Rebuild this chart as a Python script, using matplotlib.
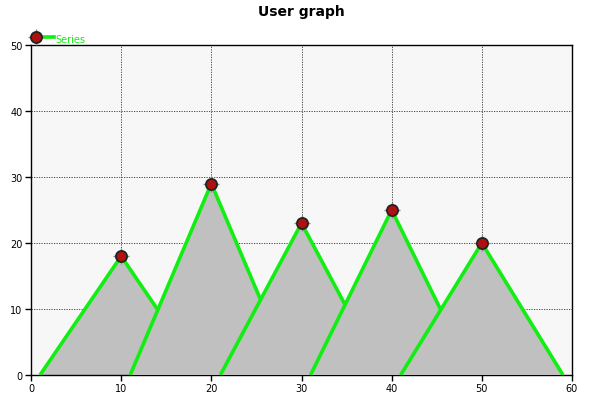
import matplotlib
matplotlib.use('Agg')
import matplotlib.pyplot as plt
from matplotlib.lines import Line2D

# ----------------------------------------------------------------------
#   Data
# ----------------------------------------------------------------------
peak_x     = [10, 20, 30, 40, 50]
peak_y     = [18, 29, 23, 25, 20]
base_left  = [1, 11, 21, 31, 41]
base_right = [19, 29, 39, 49, 59]
x_ticks    = [0, 10, 20, 30, 40, 50, 60]
y_ticks    = [0, 10, 20, 30, 40, 50]
series_name = 'Series'

green = '#11ee11'
bug_red = '#b01010'

fig = plt.figure(figsize=(6.03, 4.06), dpi=100)
ax = fig.add_axes([31/603, 30/406, 541/603, 330/406])
ax.set_facecolor('#f7f7f7')

for i in range(len(peak_x)):
    xs = [base_left[i], peak_x[i], base_right[i]]
    ys = [0, peak_y[i], 0]
    ax.fill(xs, ys, color='#c0c0c0', zorder=2 + 2*i, lw=0)
    ax.plot(xs, ys, color=green, lw=2.6, zorder=3 + 2*i, solid_capstyle='butt')

# ladybug-ish markers
ax.plot(peak_x, peak_y, '+', color='#888888', ms=11, mew=1, zorder=20)
ax.plot(peak_x, peak_y, 'o', color=bug_red, mec='#222222', mew=1.3, ms=8, zorder=21)

ax.set_xlim(0, 60)
ax.set_ylim(0, 50)
ax.set_xticks(x_ticks)
ax.set_yticks(y_ticks)
ax.tick_params(direction='out', length=4, width=1, labelsize=7, pad=2)
ax.grid(True, color='#333333', linestyle=(0, (1.5, 1.5)), linewidth=0.6, zorder=1)
ax.set_axisbelow(True)
for s in ax.spines.values():
    s.set_linewidth(1)

fig.suptitle('User graph', fontsize=10, fontweight='bold', y=0.988)

# legend entry: marker on the left, short green line, label
ly = 1 - 38/406
fig.add_artist(Line2D([38/603, 54/603], [ly, ly], color=green, lw=2.6, transform=fig.transFigure))
fig.add_artist(Line2D([36/603], [ly], marker='+', color='#888888', ms=11, mew=1, transform=fig.transFigure))
fig.add_artist(Line2D([36/603], [ly], marker='o', color=bug_red, mec='#222222', mew=1.3, ms=8,
                      transform=fig.transFigure))
fig.text(55/603, ly - 2/406, series_name, color=green, fontsize=7, va='center', ha='left')

fig.savefig('out.png', dpi=100)
